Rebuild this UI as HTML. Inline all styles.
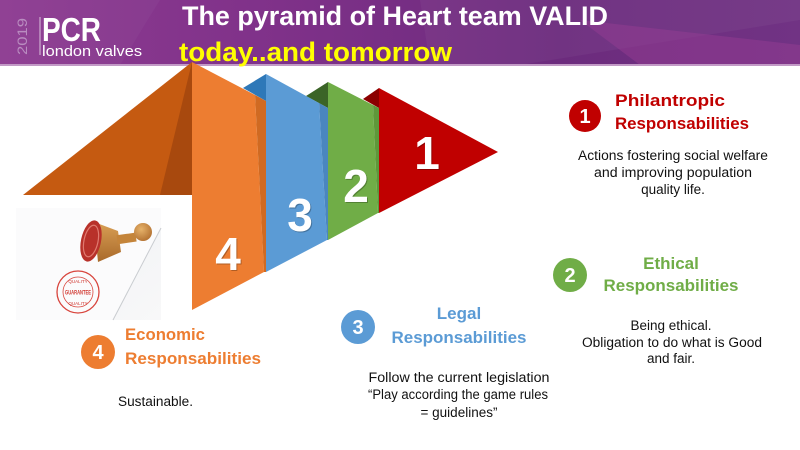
<!DOCTYPE html>
<html>
<head>
<meta charset="utf-8">
<style>
  html, body { margin:0; padding:0; background:#ffffff; }
  body { width:800px; height:450px; overflow:hidden; }
  svg { display:block; }
  text { font-family: "Liberation Sans", "DejaVu Sans", sans-serif; }
</style>
</head>
<body>
<svg width="800" height="450" viewBox="0 0 800 450" xmlns="http://www.w3.org/2000/svg">
  <defs>
    <linearGradient id="hdr" x1="0" y1="0" x2="1" y2="0">
      <stop offset="0" stop-color="#8d3b91"/>
      <stop offset="0.35" stop-color="#7f3189"/>
      <stop offset="0.7" stop-color="#6c2b7d"/>
      <stop offset="1" stop-color="#713384"/>
    </linearGradient>
    <linearGradient id="photo" x1="0" y1="0" x2="1" y2="1">
      <stop offset="0" stop-color="#eef0f3"/>
      <stop offset="1" stop-color="#f8f8f9"/>
    </linearGradient>
    <linearGradient id="wood" x1="0" y1="0" x2="0" y2="1">
      <stop offset="0" stop-color="#d9a055"/>
      <stop offset="1" stop-color="#a9692a"/>
    </linearGradient>
    <radialGradient id="knob" cx="0.4" cy="0.35" r="0.7">
      <stop offset="0" stop-color="#e6b26a"/>
      <stop offset="1" stop-color="#b27030"/>
    </radialGradient>
  </defs>

  <!-- Header -->
  <rect x="0" y="0" width="800" height="65" fill="url(#hdr)"/>
  <polygon points="420,0 800,0 800,20 520,65 430,65" fill="#ffffff" opacity="0.04"/>
  <polygon points="580,20 800,45 800,65 640,65" fill="#9a3f95" opacity="0.45"/>
  <polygon points="0,0 160,0 120,65 0,65" fill="#ffffff" opacity="0.03"/>
  <rect x="0" y="64" width="800" height="2" fill="#c29ac6"/>

  <!-- Logo -->
  <text x="0" y="0" transform="translate(27,55) rotate(-90)" font-size="14" fill="#b98cc0" textLength="37" lengthAdjust="spacingAndGlyphs">2019</text>
  <rect x="39.5" y="17" width="1" height="38" fill="#d9c3dc"/>
  <text x="42" y="41" font-size="33" font-weight="bold" fill="#ffffff" textLength="59" lengthAdjust="spacingAndGlyphs">PCR</text>
  <text x="42" y="56" font-size="15" fill="#ffffff" textLength="100" lengthAdjust="spacingAndGlyphs">london valves</text>

  <!-- Title -->
  <text x="182" y="25" font-size="27" font-weight="bold" fill="#ffffff" textLength="426" lengthAdjust="spacingAndGlyphs">The pyramid of Heart team VALID</text>
  <text x="179" y="61" font-size="27" font-weight="bold" fill="#ffff00" textLength="273" lengthAdjust="spacingAndGlyphs">today..and tomorrow</text>

  <!-- Pyramid -->
  <!-- big left face -->
  <polygon points="192,62 23,195 192,195" fill="#c55a11"/>
  <polygon points="192,62 160,195 192,195" fill="#a8490e"/>

  <!-- red -->
  <polygon points="363,99 379,88 379,108" fill="#8b0000"/>
  <polygon points="379,88 498,152 379,213" fill="#c00000"/>

  <!-- green -->
  <polygon points="306,96 328,82 328,108" fill="#3b6427"/>
  <polygon points="328,82 373,105 378,213 328,240" fill="#70ad47"/>
  <polygon points="373,105 379,108 379,213 378,213" fill="#5f973a"/>

  <!-- blue -->
  <polygon points="243,88 266,74 266,101" fill="#2e78b8"/>
  <polygon points="266,74 319,103 327,240 266,272" fill="#5b9bd5"/>
  <polygon points="319,103 328,108 328,240 327,240" fill="#4a86bf"/>

  <!-- orange front -->
  <polygon points="192,62 255,95 264,272 192,310" fill="#ed7d31"/>
  <polygon points="255,95 266,101 266,272 264,272" fill="#d06a22"/>

  <!-- numbers -->
  <g font-size="46" font-weight="bold" text-anchor="middle">
    <text x="428" y="170" fill="#000" opacity="0.25">1</text>
    <text x="427" y="169" fill="#ffffff">1</text>
    <text x="357" y="203" fill="#000" opacity="0.25">2</text>
    <text x="356" y="202" fill="#ffffff">2</text>
    <text x="301" y="232" fill="#000" opacity="0.25">3</text>
    <text x="300" y="231" fill="#ffffff">3</text>
    <text x="229" y="271" fill="#000" opacity="0.25">4</text>
    <text x="228" y="270" fill="#ffffff">4</text>
  </g>

  <!-- Stamp photo -->
  <rect x="16" y="208" width="145" height="112" fill="url(#photo)"/>
  <polygon points="16,208 161,208 161,228 113,320 16,320" fill="#fbfbfc"/>
  <line x1="161" y1="228" x2="113" y2="320" stroke="#c9ccd0" stroke-width="1"/>
  <!-- stamp body -->
  <polygon points="94,222 118,231 121,252 98,262" fill="url(#wood)"/>
  <rect x="117" y="234" width="19" height="9" fill="#c4843a" transform="rotate(-8 126 238)"/>
  <circle cx="143" cy="232" r="9" fill="url(#knob)"/>
  <ellipse cx="91" cy="241" rx="10" ry="21" fill="#b8312a" transform="rotate(12 91 241)"/>
  <ellipse cx="91" cy="241" rx="7" ry="16" fill="none" stroke="#e07a70" stroke-width="1.2" transform="rotate(12 91 241)"/>
  <!-- seal -->
  <circle cx="78" cy="292" r="21" fill="none" stroke="#d8453d" stroke-width="1.3"/>
  <circle cx="78" cy="292" r="15" fill="none" stroke="#d8453d" stroke-width="0.8"/>
  <text x="78" y="294.5" font-size="6.5" font-weight="bold" fill="#d0362f" text-anchor="middle" textLength="26" lengthAdjust="spacingAndGlyphs">GUARANTEE</text>
  <text x="78" y="283" font-size="4.5" fill="#d0362f" text-anchor="middle">QUALITY</text>
  <text x="78" y="305" font-size="4.5" fill="#d0362f" text-anchor="middle">QUALITY</text>

  <!-- 1 Philantropic -->
  <circle cx="585" cy="116" r="16" fill="#c00000"/>
  <text x="585" y="123" font-size="20" font-weight="bold" fill="#ffffff" text-anchor="middle">1</text>
  <text x="615" y="106" font-size="17" font-weight="bold" fill="#c00000" textLength="110" lengthAdjust="spacingAndGlyphs">Philantropic</text>
  <text x="615" y="129" font-size="17" font-weight="bold" fill="#c00000" textLength="134" lengthAdjust="spacingAndGlyphs">Responsabilities</text>
  <g font-size="13.5" fill="#111" text-anchor="middle">
    <text x="673" y="160" textLength="190" lengthAdjust="spacingAndGlyphs">Actions fostering social welfare</text>
    <text x="673" y="177" textLength="158" lengthAdjust="spacingAndGlyphs">and improving population</text>
    <text x="673" y="194">quality life.</text>
  </g>

  <!-- 2 Ethical -->
  <circle cx="570" cy="275" r="17" fill="#70ad47"/>
  <text x="570" y="282" font-size="20" font-weight="bold" fill="#ffffff" text-anchor="middle">2</text>
  <text x="671" y="269" font-size="17" font-weight="bold" fill="#70ad47" text-anchor="middle">Ethical</text>
  <text x="671" y="291" font-size="17" font-weight="bold" fill="#70ad47" text-anchor="middle" textLength="135" lengthAdjust="spacingAndGlyphs">Responsabilities</text>
  <g font-size="13.5" fill="#111" text-anchor="middle">
    <text x="671" y="330">Being ethical.</text>
    <text x="672" y="347" textLength="180" lengthAdjust="spacingAndGlyphs">Obligation to do  what is Good</text>
    <text x="671" y="363">and fair.</text>
  </g>

  <!-- 3 Legal -->
  <circle cx="358" cy="327" r="17" fill="#5b9bd5"/>
  <text x="358" y="334" font-size="20" font-weight="bold" fill="#ffffff" text-anchor="middle">3</text>
  <text x="459" y="319" font-size="17" font-weight="bold" fill="#5b9bd5" text-anchor="middle">Legal</text>
  <text x="459" y="343" font-size="17" font-weight="bold" fill="#5b9bd5" text-anchor="middle" textLength="135" lengthAdjust="spacingAndGlyphs">Responsabilities</text>
  <g font-size="13.5" fill="#111" text-anchor="middle">
    <text x="459" y="382" textLength="181" lengthAdjust="spacingAndGlyphs">Follow the current  legislation</text>
    <text x="458" y="399" textLength="180" lengthAdjust="spacingAndGlyphs">“Play according the game rules</text>
    <text x="459" y="417">= guidelines”</text>
  </g>

  <!-- 4 Economic -->
  <circle cx="98" cy="352" r="17" fill="#ed7d31"/>
  <text x="98" y="359" font-size="20" font-weight="bold" fill="#ffffff" text-anchor="middle">4</text>
  <text x="125" y="340" font-size="17" font-weight="bold" fill="#ed7d31" textLength="80" lengthAdjust="spacingAndGlyphs">Economic</text>
  <text x="125" y="364" font-size="17" font-weight="bold" fill="#ed7d31" textLength="136" lengthAdjust="spacingAndGlyphs">Responsabilities</text>
  <text x="118" y="406" font-size="13.5" fill="#111" textLength="75" lengthAdjust="spacingAndGlyphs">Sustainable.</text>
</svg>
</body>
</html>
